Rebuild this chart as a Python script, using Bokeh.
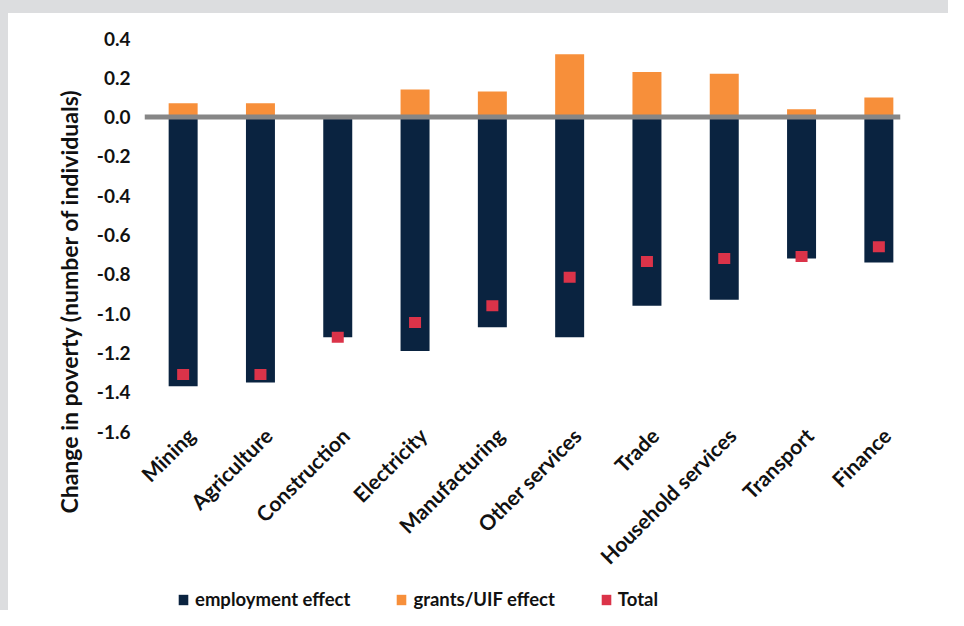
import math
from bokeh.plotting import figure
from bokeh.layouts import column, row
from bokeh.models import (Range1d, FixedTicker, NumeralTickFormatter, Span, Legend,
                          LegendItem, Title, ColumnDataSource, Div)
from bokeh.embed import file_html
from bokeh.resources import INLINE

categories = ["Mining", "Agriculture", "Construction", "Electricity", "Manufacturing",
              "Other services", "Trade", "Household services", "Transport", "Finance"]
employment_effect = [-1.37, -1.35, -1.12, -1.19, -1.07, -1.12, -0.96, -0.93, -0.72, -0.74]
grants_uif_effect = [0.07, 0.07, 0.0, 0.14, 0.13, 0.32, 0.23, 0.22, 0.04, 0.10]
total = [-1.31, -1.31, -1.12, -1.045, -0.96, -0.815, -0.735, -0.72, -0.71, -0.66]
y_ticks = [0.4, 0.2, 0.0, -0.2, -0.4, -0.6, -0.8, -1.0, -1.2, -1.4, -1.6]
y_title = "Change in poverty (number of individuals)"
legend_labels = ["employment effect", "grants/UIF effect", "Total"]

NAVY = "#0a2340"
ORANGE = "#f78f3a"
RED = "#db3349"
GREY_BG = "#dcdddf"
FONT = "Lato"
TXT = "#111111"

xs = list(range(len(categories)))
src = ColumnDataSource(dict(x=xs, emp=employment_effect, grants=grants_uif_effect,
                            total=total, zero=[0.0] * len(xs)))

# ---------------- main chart ----------------
p = figure(width=940, height=567, x_range=Range1d(-0.5, 9.28), y_range=Range1d(-1.6, 0.4),
           output_backend="svg", toolbar_location=None,
           min_border_left=136, min_border_right=48, min_border_top=25, min_border_bottom=147)
p.background_fill_color = "white"
p.border_fill_color = "white"
p.outline_line_color = None
p.grid.visible = False

r_emp = p.vbar(x="x", top="zero", bottom="emp", width=0.375, source=src,
               fill_color=NAVY, line_color=None)
r_gr = p.vbar(x="x", top="grants", bottom="zero", width=0.375, source=src,
              fill_color=ORANGE, line_color=None)
p.add_layout(Span(location=0, dimension="width", line_color="#868686", line_width=5))
r_tot = p.rect(x="x", y="total", width=12, height=11, width_units="screen",
               height_units="screen", source=src, fill_color=RED, line_color=None)

for ax in (p.xaxis[0], p.yaxis[0]):
    ax.axis_line_color = None
    ax.major_tick_line_color = None
    ax.minor_tick_line_color = None
    ax.major_tick_out = 0
    ax.major_tick_in = 0
    ax.major_label_text_font = FONT
    ax.major_label_text_font_style = "bold"
    ax.major_label_text_color = TXT

p.yaxis.major_label_text_font_size = "19px"
p.yaxis.ticker = FixedTicker(ticks=y_ticks)
p.yaxis.formatter = NumeralTickFormatter(format="0.0")
p.yaxis.major_label_standoff = 14

label_shift = 0.1  # small horizontal nudge of the slanted category labels
x_label_pos = [i + label_shift for i in xs]
p.xaxis.major_label_text_font_size = "21px"
p.xaxis.ticker = FixedTicker(ticks=x_label_pos)
p.xaxis.major_label_overrides = {pos: c for pos, c in zip(x_label_pos, categories)}
p.xaxis.major_label_orientation = math.pi / 4
p.xaxis.major_label_standoff = 0

p.add_layout(Title(text=y_title, align="left", offset=-82, vertical_align="middle",
                   standoff=20, text_font=FONT, text_font_style="bold",
                   text_font_size="23px", text_color=TXT), "left")

# ---------------- legend strip ----------------
leg_fig = figure(width=940, height=30, x_range=Range1d(0, 1), y_range=Range1d(0, 1),
                 output_backend="svg", toolbar_location=None,
                 x_axis_location=None, y_axis_location=None,
                 min_border_left=0, min_border_right=0, min_border_top=0, min_border_bottom=0)
leg_fig.grid.visible = False
leg_fig.outline_line_color = None
leg_fig.border_fill_color = "white"
nan = float("nan")
d_emp = leg_fig.vbar(x=[nan], top=[nan], width=0.1, fill_color=NAVY, line_color=None)
d_gr = leg_fig.vbar(x=[nan], top=[nan], width=0.1, fill_color=ORANGE, line_color=None)
d_tot = leg_fig.rect(x=[nan], y=[nan], width=0.1, height=0.1, fill_color=RED, line_color=None)

legend = Legend(items=[LegendItem(label=legend_labels[0], renderers=[d_emp]),
                       LegendItem(label=legend_labels[1], renderers=[d_gr]),
                       LegendItem(label=legend_labels[2], renderers=[d_tot])],
                orientation="horizontal", location=(33, 0),
                glyph_width=12, glyph_height=13, label_standoff=6, spacing=45,
                padding=0, margin=0, border_line_color=None, background_fill_alpha=0,
                label_text_font=FONT, label_text_font_style="bold",
                label_text_font_size="18.5px", label_text_color=TXT)
leg_fig.add_layout(legend)

# ---------------- grey frame strips ----------------
top_strip = Div(text="", width=948, height=13, margin=0,
                styles={"background-color": GREY_BG})
left_strip = Div(text="", width=8, height=597, margin=0,
                 styles={"background-color": GREY_BG})

layout = column(top_strip, row(left_strip, column(p, leg_fig, spacing=0), spacing=0),
                spacing=0)

open("out.html", "w").write(file_html(layout, INLINE))
